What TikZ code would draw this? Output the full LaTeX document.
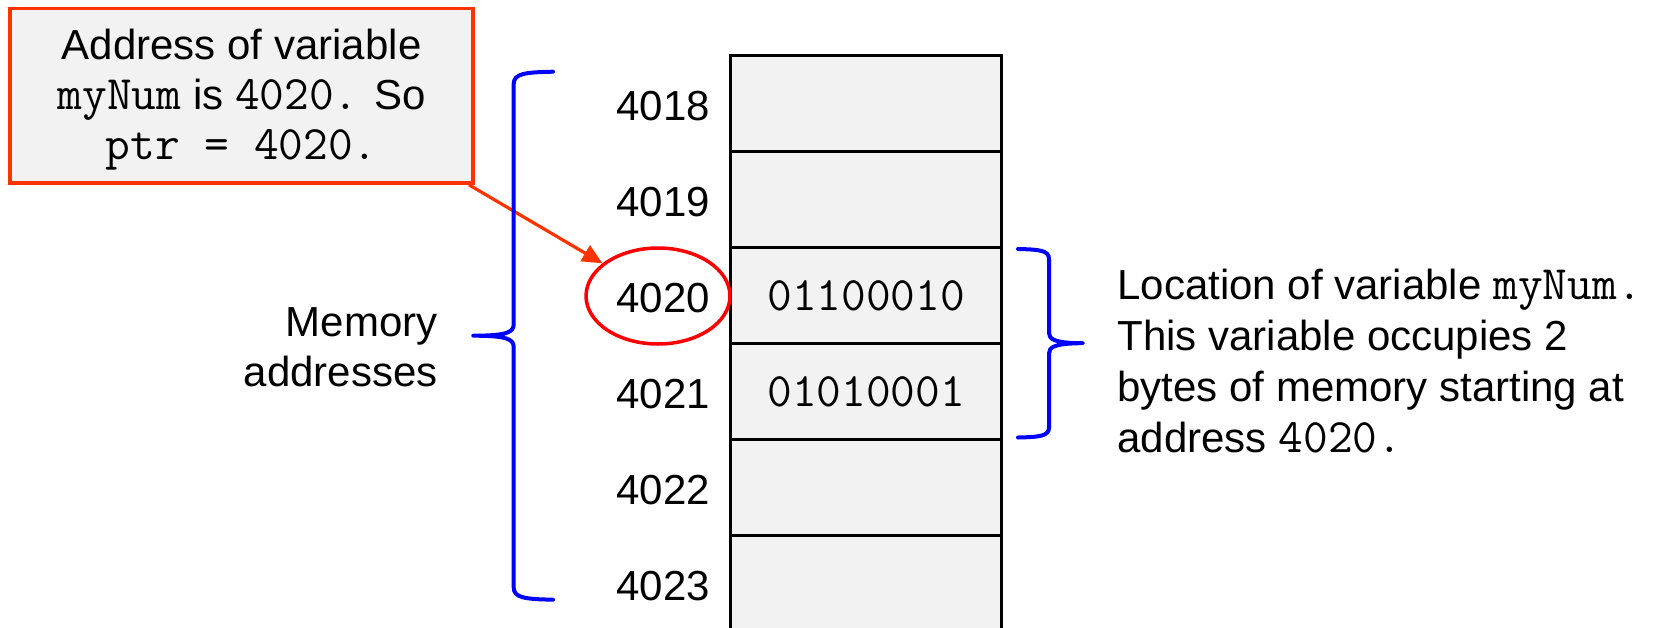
\documentclass[tikz,border=0pt]{standalone}
\usepackage{fontspec}
\setmainfont{Liberation Sans}
\newcommand{\monotxt}{\ttfamily\fontsize{48}{50}\selectfont}
\usetikzlibrary{shapes.geometric,arrows.meta}
\definecolor{cellgray}{HTML}{F2F2F2}
\definecolor{boxred}{HTML}{FF3300}
\definecolor{ellred}{HTML}{FF0000}
\definecolor{braceblue}{HTML}{0000FF}
\begin{document}
\begin{tikzpicture}[x=1pt,y=-1pt,
  txt/.style={font=\fontsize{42}{50}\selectfont, inner sep=0pt, outer sep=0pt, text=black},
  cell/.style={draw=black, line width=3.5pt, fill=cellgray, minimum width=271pt,
    minimum height=96pt, inner sep=0pt, font=\monotxt, text=black},
  addr/.style={txt, anchor=base east},
  callout/.style={draw=boxred, line width=3.5pt, fill=cellgray, minimum width=463pt,
    minimum height=174.7pt, inner sep=0pt},
  ring/.style={ellipse, draw=ellred, line width=3.5pt, minimum width=144pt,
    minimum height=96pt, inner sep=0pt},
  brace/.style={draw=braceblue, line width=4pt, line cap=round, line join=round},
  ptrarrow/.style={draw=boxred, line width=3.2pt, -{Triangle[length=20pt,width=18pt]}}
]
\useasboundingbox (0,0) rectangle (1653,627);

% memory column
\node[cell] (c18) at (866.2,103.7) {};
\node[cell] (c19) at (866.2,199.7) {};
\node[cell] (c20) at (866.2,295.7) {01100010};
\node[cell] (c21) at (866.2,391.7) {01010001};
\node[cell] (c22) at (866.2,487.7) {};
\node[cell] (c23) at (866.2,583.7) {};

% addresses
\node[addr] (a18) at (710,120) {4018};
\node[addr] (a19) at (710,216) {4019};
\node[addr] (a20) at (710,312) {4020};
\node[addr] (a21) at (710,408) {4021};
\node[addr] (a22) at (710,504) {4022};
\node[addr] (a23) at (710,600) {4023};

% ellipse around 4020
\node[ring] (e) at (658,296) {};

% callout
\node[callout] (box) at (241.7,95.7) {};
\node[txt, align=center] (boxtxt) at (241.7,100) {Address of variable\\
  {\monotxt myNum} is {\monotxt 4020.} So\\ {\monotxt ptr = 4020.}};
\draw[ptrarrow] ([xshift=-6pt]box.south east) -- (e);

% left brace
\draw[brace] (553,71.7) .. controls (525,72.3) and (513.7,73.5) .. (513.7,84)
  -- (513.7,324) .. controls (513.7,332) and (508,335.7) .. (473.3,335.7)
  .. controls (508,335.7) and (513.7,339.4) .. (513.7,347.4)
  -- (513.7,587.4) .. controls (513.7,597.9) and (525,599.1) .. (553,599.7);
\node[txt, align=right, anchor=east] (mem) at (437.5,347) {Memory\\addresses};

% right brace
\draw[brace] (1018,249) .. controls (1040,249.5) and (1049,250.5) .. (1049,259)
  -- (1049,333) .. controls (1049,339) and (1054,343.2) .. (1083,343.2)
  .. controls (1054,343.2) and (1049,347.4) .. (1049,353.4)
  -- (1049,427.5) .. controls (1049,436) and (1040,437) .. (1018,437.5);
\node[txt, align=left, anchor=west, font=\fontsize{42}{51}\selectfont] (loc) at (1117.5,361)
  {Location of variable {\monotxt myNum.}\\This variable occupies 2\\
   bytes of memory starting at\\address {\monotxt 4020.}};
\end{tikzpicture}
\end{document}
